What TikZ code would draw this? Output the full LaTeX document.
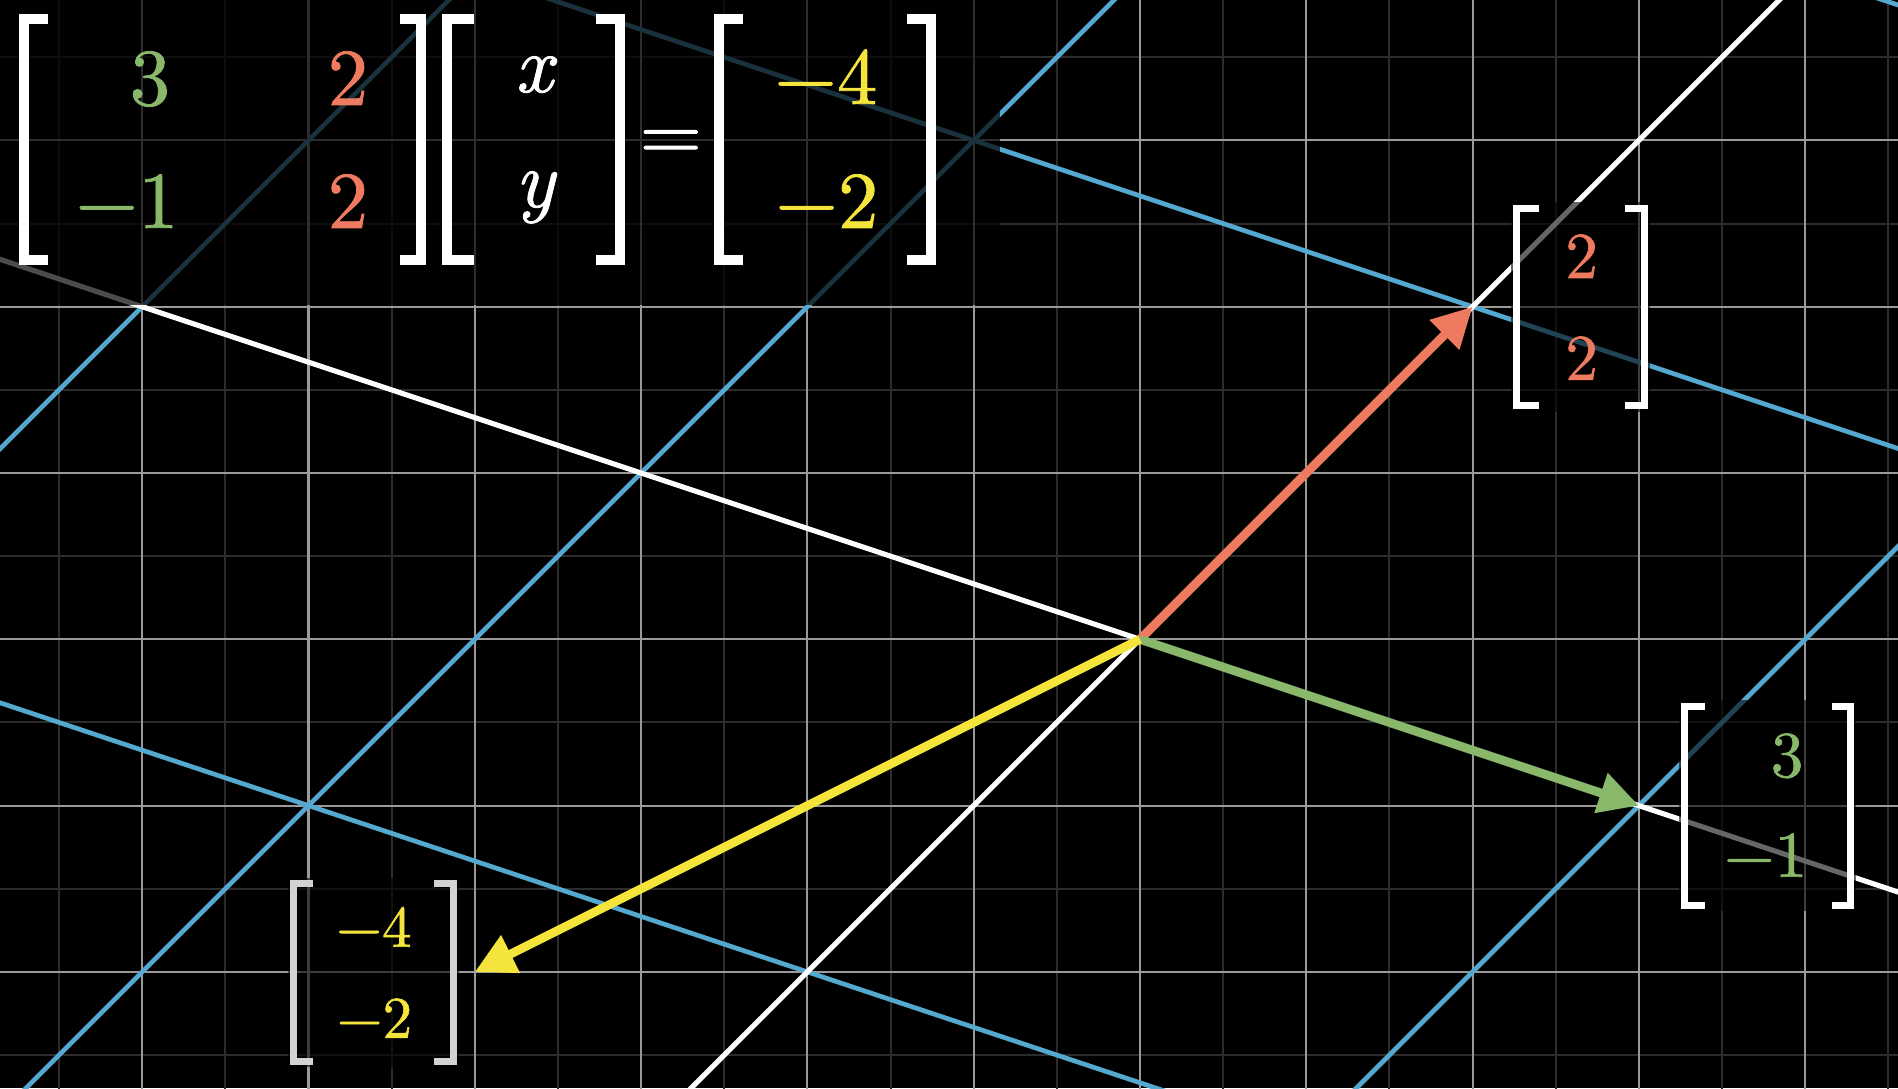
\documentclass[tikz,border=0pt]{standalone}
\usepackage{fontspec}
\newfontfamily\lmheavy{lmroman10-regular.otf}[ItalicFont=lmroman10-italic.otf,FakeBold=1.0]
\usetikzlibrary{arrows.meta}
\definecolor{gridmajor}{HTML}{9A9A9A}
\definecolor{gridminor}{HTML}{2C2C2C}
\definecolor{tblue}{HTML}{55A9D0}
\definecolor{vred}{HTML}{EE7A5F}
\definecolor{vgreen}{HTML}{89B86B}
\definecolor{vyellow}{HTML}{F4E43B}
\definecolor{brkgray}{HTML}{D2D2D2}
\newcommand\MatFont{\lmheavy\fontsize{27.6pt}{30pt}\selectfont}
\newcommand\LabFont{\lmheavy\fontsize{22.3pt}{25pt}\selectfont}
\newcommand\LabFontS{\lmheavy\fontsize{20.2pt}{23pt}\selectfont}
% left bracket: outer x, serif end x, top, bottom, thickness(px), colour
\newcommand\LBrk[6]{\draw[#6,line width={#5*0.34214pt},line join=miter,line cap=butt]
  (#2,#3+#5/2) -- (#1+#5/2,#3+#5/2) -- (#1+#5/2,#4-#5/2) -- (#2,#4-#5/2);}
% right bracket: outer x, serif end x, top, bottom, thickness(px), colour
\newcommand\RBrk[6]{\draw[#6,line width={#5*0.34214pt},line join=miter,line cap=butt]
  (#2,#3+#5/2) -- (#1-#5/2,#3+#5/2) -- (#1-#5/2,#4-#5/2) -- (#2,#4-#5/2);}
\begin{document}
\begin{tikzpicture}[x=2cm,y=2cm,
  px/.style={shift={(-13.7102cm,7.6886cm)},x=0.0120265cm,y=-0.0120265cm},
  major/.style={draw=gridmajor,line width=0.7pt},
  minor/.style={draw=gridminor,line width=0.7pt},
  tline/.style={draw=tblue,line width=1.6pt},
  axisline/.style={draw=white,line width=1.75pt},
  vec/.style={line width=3pt,-{Triangle[length=13.7pt,width=13.7pt]}},
  ent/.style={anchor=base,inner sep=0pt,outer sep=0pt},
  dimbox/.style={fill=black,fill opacity=#1},
]
\useasboundingbox (-6.8551,-2.6981) rectangle (4.5580,3.8443);
\fill[black] (-6.8551,-2.6981) rectangle (4.5580,3.8443);
\begin{scope}
\clip (-6.8551,-2.6981) rectangle (4.5580,3.8443);
% background grid
\foreach \i in {-7,...,4} { \draw[minor] (\i+0.5,-3) -- (\i+0.5,4); }
\foreach \i in {-3,...,3} { \draw[minor] (-7,\i+0.5) -- (5,\i+0.5); }
\foreach \i in {-7,...,5} { \draw[major] (\i,-3) -- (\i,4); }
\foreach \i in {-3,...,4} { \draw[major] (-7,\i) -- (5,\i); }
% transformed grid lines
\foreach \c in {-8,-4,4} { \draw[tline] (\c-5,-5) -- (\c+5,5); }
\foreach \d in {-8,8,16} { \draw[tline] (\d+15,-5) -- (\d-15,5); }
% transformed axes
\draw[axisline] (-5,-5) -- (5,5);
\draw[axisline] (15,-5) -- (-15,5);
\end{scope}
% vectors
\coordinate (O) at (0,0);
\coordinate (J) at (2,2);
\coordinate (I) at (3,-1);
\coordinate (V) at (-4,-2);
\draw[vec,vred] (O) -- (J);
\draw[vec,vgreen] (O) -- (I);
\draw[vec,vyellow] (O) -- (V);
% overlays and labels in pixel coordinates
\begin{scope}[px]
\fill[dimbox=0.7] (0,0) rectangle (1000,305);
\fill[dimbox=0.6] (1511,202) rectangle (1650,412);
\fill[dimbox=0.6] (1679,700) rectangle (1856,911);
\fill[dimbox=0.6] (288,878) rectangle (459,1067);
% main equation
\LBrk{19}{48}{14}{265}{10}{white}
\RBrk{426}{400}{14}{265}{10}{white}
\LBrk{442}{474}{14}{265}{10}{white}
\RBrk{625}{596}{14}{265}{10}{white}
\LBrk{714}{743}{14}{265}{10}{white}
\RBrk{936}{907}{14}{265}{10}{white}
\node[ent,text=vgreen,font=\MatFont] (m11) at (150,105) {3};
\node[ent,text=vred,font=\MatFont] (m12) at (348,105) {2};
\node[ent,text=vgreen,font=\MatFont] (m21) at (127,228) {−1};
\node[ent,text=vred,font=\MatFont] (m22) at (348,228) {2};
\node[ent,text=white,font=\MatFont\itshape] (vx) at (534,92) {x};
\node[ent,text=white,font=\MatFont\itshape] (vy) at (535,207) {y};
\node[ent,text=white,font=\MatFont] (eq) at (671,160) {=};
\node[ent,text=vyellow,font=\MatFont] (r1) at (826,104) {−4};
\node[ent,text=vyellow,font=\MatFont] (r2) at (827,228) {−2};
% label [2;2]
\LBrk{1513}{1539}{205}{409}{7}{white}
\RBrk{1648}{1625}{205}{409}{7}{white}
\node[ent,text=vred,font=\LabFont] (ja) at (1582,278) {2};
\node[ent,text=vred,font=\LabFont] (jb) at (1582,380) {2};
% label [3;-1]
\LBrk{1681}{1705}{703}{909}{7}{white}
\RBrk{1854}{1832}{703}{909}{7}{white}
\node[ent,text=vgreen,font=\LabFont] (ia) at (1787.5,777) {3};
\node[ent,text=vgreen,font=\LabFont] (ib) at (1766,877) {−1};
% label [-4;-2]
\LBrk{290}{313}{880}{1065}{7}{brkgray}
\RBrk{457}{434}{880}{1065}{7}{brkgray}
\node[ent,text=vyellow,font=\LabFontS] (va) at (374,947) {−4};
\node[ent,text=vyellow,font=\LabFontS] (vb) at (374.5,1038) {−2};
\end{scope}
\end{tikzpicture}
\end{document}
